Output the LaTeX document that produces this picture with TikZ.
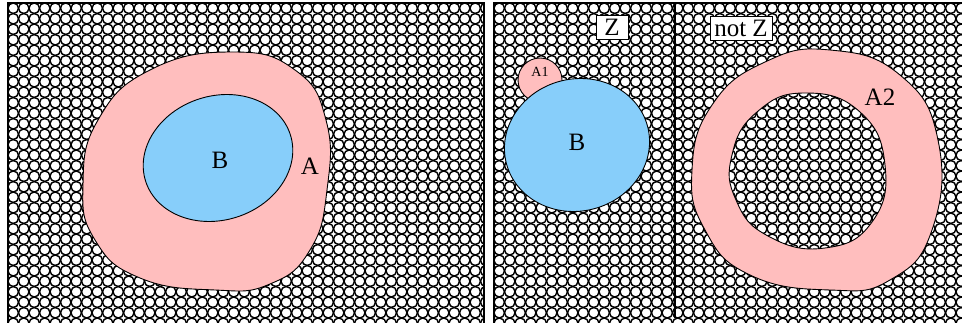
\documentclass[tikz,border=0pt]{standalone}
\usepackage{fontspec}
\setmainfont{Liberation Serif}
\usepackage{tikz}
\usetikzlibrary{positioning}
\definecolor{setpink}{RGB}{255, 190, 190}
\definecolor{setblue}{RGB}{135, 206, 250}
\tikzset{
  dots/.style={line width=1.4pt, color=black},
  blob/.style={draw=black, line width=0.9pt},
  setlabel/.style={font=\fontsize{25}{27}\selectfont, inner sep=0pt},
  tag/.style={draw=black, fill=white, line width=0.8pt, font=\fontsize{25}{27}\selectfont, inner sep=2pt, minimum height=24pt}
}

\begin{document}
\begin{tikzpicture}[x=1pt, y=-1pt]
    \useasboundingbox (0,0) rectangle (962,323);

    % Background pattern, left panel
    \begin{scope}
      \clip (8,3) rectangle (484,330);
      \foreach \i in {0,...,46} {
        \foreach \j in {0,...,31} {
          \draw[dots] (13.25+10.5*\i, 8.25+10.5*\j) circle (5.25);
        }
      }
    \end{scope}

    % Background pattern, right panel
    \begin{scope}
      \clip (494,3) rectangle (970,330);
      \foreach \i in {0,...,45} {
        \foreach \j in {0,...,31} {
          \draw[dots] (499.25+10.5*\i, 8.25+10.5*\j) circle (5.25);
        }
      }
    \end{scope}

    % Panel frames
    \draw[line width=2pt] (8,340) -- (8,3) -- (484,3) -- (484,340);
    \draw[line width=2pt] (494,340) -- (494,3) -- (970,3);
    \draw[line width=1.5pt] (675,3) -- (675,318);

    % Left panel: A contains B
    \draw[blob, fill=setpink] plot[smooth cycle, tension=0.8] coordinates {
      (232,52) (295,70) (326,120) (327,190) (310,250) (270,284) (215,290)
      (140,278) (95,240) (83,185) (98,120) (150,70)};
    \draw[blob, fill=setblue, rotate around={18:(218,158)}] (218,158) ellipse (76 and 62);
    \node[setlabel] (labB) at (220,160) {B};
    \node[setlabel] (labA) at (310,166) {A};

    % Right panel, Z side: A1 and B
    \draw[blob, fill=setpink] (540,80) circle (22);
    \node[setlabel, font=\fontsize{14}{15}\selectfont] (labAone) at (540,72) {A1};
    \draw[blob, fill=setblue, rotate around={15:(577,145)}] (577,145) ellipse (73 and 66);
    \node[setlabel] (labBtwo) at (577,142) {B};

    % Right panel, not Z side: A2 ring
    \draw[blob, fill=setpink, even odd rule]
      plot[smooth cycle, tension=0.8] coordinates {
        (830,50) (900,75) (938,140) (932,230) (890,280) (830,290)
        (750,275) (705,230) (692,170) (712,105) (765,62)}
      plot[smooth cycle, tension=0.8] coordinates {
        (805,93) (860,112) (885,165) (872,222) (825,248) (768,236)
        (736,200) (732,155) (757,112)};
    \node[setlabel] (labAtwo) at (880,97) {A2};

    % Region tags
    \node[tag, minimum width=32pt] (tagZ) at (612,27) {Z};
    \node[tag, minimum width=62pt] (tagNotZ) at (741,28) {not Z};
\end{tikzpicture}
\end{document}
